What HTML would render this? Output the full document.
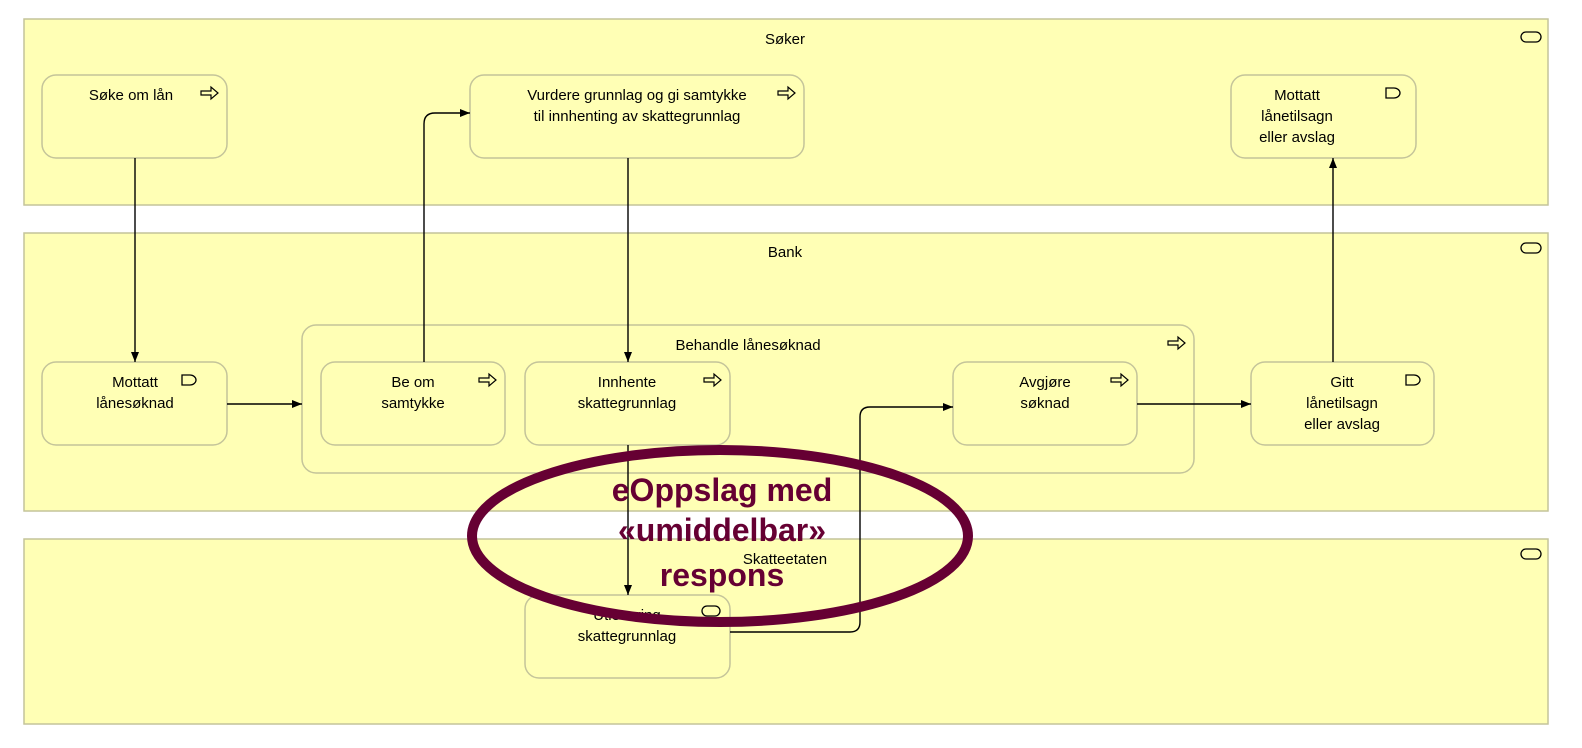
<!DOCTYPE html>
<html><head><meta charset="utf-8"><style>body{margin:0;background:#fff}svg{display:block}</style></head><body>
<svg width="1582" height="748" viewBox="0 0 1582 748" xmlns="http://www.w3.org/2000/svg" font-family="Liberation Sans, sans-serif">
<defs><marker id="a" markerWidth="10" markerHeight="8" refX="10" refY="4" orient="auto" markerUnits="userSpaceOnUse"><path d="M0,0 L10,4 L0,8 z" fill="#000"/></marker></defs>
<g fill="#ffffb5" stroke="#c4c49a" stroke-width="1.5">
<rect x="24" y="19" width="1524" height="186"/>
<rect x="24" y="233" width="1524" height="278"/>
<rect x="24" y="539" width="1524" height="185"/>
<rect x="42" y="75" width="185" height="83" rx="14"/>
<rect x="470" y="75" width="334" height="83" rx="14"/>
<rect x="1231" y="75" width="185" height="83" rx="14"/>
<rect x="42" y="362" width="185" height="83" rx="14"/>
<rect x="302" y="325" width="892" height="148" rx="14"/>
<rect x="321" y="362" width="184" height="83" rx="14"/>
<rect x="525" y="362" width="205" height="83" rx="14"/>
<rect x="953" y="362" width="184" height="83" rx="14"/>
<rect x="1251" y="362" width="183" height="83" rx="14"/>
<rect x="525" y="595" width="205" height="83" rx="14"/>
</g>
<g fill="none" stroke="#000" stroke-width="1.3">
<rect x="1521" y="32" width="20" height="10" rx="5"/><rect x="1521" y="243" width="20" height="10" rx="5"/><rect x="1521" y="549" width="20" height="10" rx="5"/>
<rect x="702" y="606" width="18" height="10" rx="5"/>
<path d="M1386,88 h8 a6,5 0 0 1 0,10 h-8 z"/><path d="M1406,375 h8 a6,5 0 0 1 0,10 h-8 z"/><path d="M182,375 h8 a6,5 0 0 1 0,10 h-8 z"/>
</g>
<g fill="none" stroke="#000" stroke-width="1.2">
<path d="M201,91 h10 v-4 l7,6 l-7,6 v-4 h-10 z"/>
<path d="M778,91 h10 v-4 l7,6 l-7,6 v-4 h-10 z"/>
<path d="M1168,341 h10 v-4 l7,6 l-7,6 v-4 h-10 z"/>
<path d="M479,378 h10 v-4 l7,6 l-7,6 v-4 h-10 z"/>
<path d="M704,378 h10 v-4 l7,6 l-7,6 v-4 h-10 z"/>
<path d="M1111,378 h10 v-4 l7,6 l-7,6 v-4 h-10 z"/>
</g>
<g fill="none" stroke="#000" stroke-width="1.4" marker-end="url(#a)">
<path d="M135,158 V362"/>
<path d="M424,362 V124 Q424,113 435,113 H470"/>
<path d="M628,158 V362"/>
<path d="M628,445 V595"/>
<path d="M730,632 H850 Q860,632 860,622 V417 Q860,407 870,407 H953"/>
<path d="M227,404 H302"/>
<path d="M1137,404 H1251"/>
<path d="M1333,362 V158"/>
</g>
<g font-size="15" fill="#000" text-anchor="middle">
<text x="785" y="44">Søker</text>
<text x="785" y="257">Bank</text>
<text x="785" y="564">Skatteetaten</text>
<text x="131" y="100">Søke om lån</text>
<text x="637" y="100">Vurdere grunnlag og gi samtykke</text>
<text x="637" y="121">til innhenting av skattegrunnlag</text>
<text x="1297" y="100">Mottatt</text><text x="1297" y="121">lånetilsagn</text><text x="1297" y="142">eller avslag</text>
<text x="135" y="387">Mottatt</text><text x="135" y="408">lånesøknad</text>
<text x="748" y="350">Behandle lånesøknad</text>
<text x="413" y="387">Be om</text><text x="413" y="408">samtykke</text>
<text x="627" y="387">Innhente</text><text x="627" y="408">skattegrunnlag</text>
<text x="1045" y="387">Avgjøre</text><text x="1045" y="408">søknad</text>
<text x="1342" y="387">Gitt</text><text x="1342" y="408">lånetilsagn</text><text x="1342" y="429">eller avslag</text>
<text x="627" y="620">Utlevering</text><text x="627" y="641">skattegrunnlag</text>
</g>
<ellipse cx="720" cy="536" rx="248" ry="86" fill="none" stroke="#660033" stroke-width="10"/>
<g font-size="32" font-weight="bold" fill="#660033" text-anchor="middle">
<text x="722" y="501">eOppslag med</text>
<text x="722" y="541">«umiddelbar»</text>
<text x="722" y="586">respons</text>
</g>
</svg>
</body></html>
